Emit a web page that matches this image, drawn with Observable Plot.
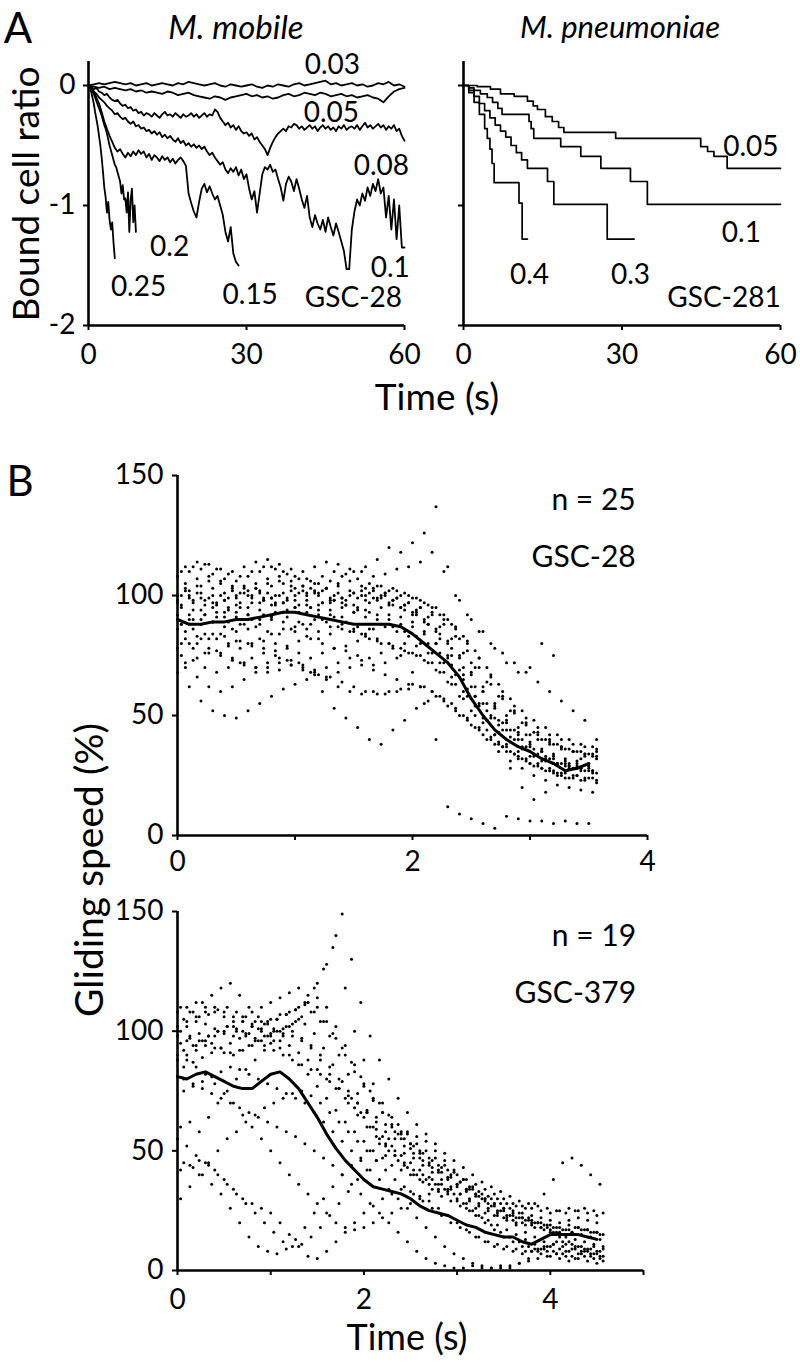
<!DOCTYPE html>
<html><head><meta charset="utf-8">
<script src="https://cdn.jsdelivr.net/npm/d3@7"></script>
<script src="https://cdn.jsdelivr.net/npm/@observablehq/plot@0.6"></script>
<style>
body{margin:0;background:#fff;}
#page{position:relative;width:800px;height:1362px;font-family:Lato,"Open Sans",sans-serif;color:#000;overflow:hidden;background:#fff}
.lbl{position:absolute;white-space:nowrap;line-height:1;}
</style></head><body><div id="page"></div>
<script>
// ---------- Panel A: M. mobile (bound cell ratio, noisy traces) ----------
const mobileConc = ["0.03","0.05","0.08","0.1","0.15","0.2","0.25"];
const mobileStep = [1, 1, 0.5, 0.5, 0.5, 0.25, 0.25];
const mob003 = [0,0.01,0.02,0.01,0.02,0.03,0.02,0.01,0.02,0.0,0.01,0.02,0.0,0.01,0.02,0.01,0.0,0.02,0.01,0.03,0.02,0.01,0.0,0.01,0.02,0.0,-0.01,0.01,0.0,-0.01,0.0,0.01,-0.01,-0.02,0.0,-0.01,0.01,0.0,-0.01,0.01,0.02,0.0,0.01,0.02,0.03,0.04,0.01,0.02,0.0,0.01,0.02,0.0,0.01,-0.01,0.0,0.02,0.01,0.03,0.0,0.01,-0.01];
const mob005 = [0,-0.01,-0.02,-0.01,-0.03,-0.02,-0.03,-0.04,-0.03,-0.05,-0.04,-0.06,-0.05,-0.06,-0.07,-0.05,-0.06,-0.08,-0.07,-0.06,-0.08,-0.09,-0.1,-0.11,-0.09,-0.1,-0.12,-0.1,-0.09,-0.08,-0.07,-0.09,-0.08,-0.1,-0.09,-0.11,-0.1,-0.08,-0.07,-0.09,-0.08,-0.06,-0.07,-0.08,-0.06,-0.07,-0.09,-0.08,-0.07,-0.09,-0.08,-0.1,-0.09,-0.08,-0.1,-0.11,-0.14,-0.09,-0.05,-0.03,-0.02];
const mob008 = [0,-0.01,-0.03,-0.02,-0.05,-0.06,-0.08,-0.07,-0.1,-0.12,-0.13,
 -0.12,-0.15,-0.17,-0.16,-0.19,-0.18,-0.21,-0.2,-0.23,-0.22,
 -0.25,-0.23,-0.24,-0.26,-0.23,-0.25,-0.27,-0.24,-0.22,-0.25,
 -0.24,-0.26,-0.23,-0.25,-0.27,-0.24,-0.26,-0.25,-0.23,-0.26,
 -0.24,-0.27,-0.25,-0.23,-0.26,-0.24,-0.25,-0.2,-0.22,-0.27,
 -0.3,-0.33,-0.31,-0.35,-0.33,-0.37,-0.34,-0.38,-0.4,-0.39,
 -0.42,-0.4,-0.45,-0.43,-0.47,-0.5,-0.53,-0.58,-0.52,-0.47,
 -0.43,-0.4,-0.38,-0.36,-0.38,-0.34,-0.35,-0.32,-0.33,-0.36,
 -0.34,-0.37,-0.35,-0.33,-0.36,-0.34,-0.38,-0.35,-0.33,-0.36,
 -0.34,-0.37,-0.35,-0.38,-0.34,-0.36,-0.33,-0.37,-0.35,-0.34,
 -0.36,-0.33,-0.37,-0.34,-0.31,-0.35,-0.33,-0.36,-0.34,-0.32,
 -0.35,-0.33,-0.37,-0.34,-0.36,-0.33,-0.38,-0.36,-0.42,-0.46];
const mob01 = [0,-0.02,-0.05,-0.07,-0.1,-0.12,-0.14,-0.17,-0.19,-0.21,-0.24,
 -0.23,-0.26,-0.28,-0.27,-0.3,-0.32,-0.3,-0.34,-0.33,-0.36,
 -0.35,-0.38,-0.37,-0.4,-0.38,-0.41,-0.39,-0.43,-0.41,-0.44,
 -0.42,-0.45,-0.47,-0.44,-0.48,-0.46,-0.5,-0.48,-0.51,-0.49,
 -0.52,-0.5,-0.53,-0.51,-0.55,-0.58,-0.56,-0.6,-0.63,-0.66,
 -0.64,-0.7,-0.73,-0.69,-0.72,-0.68,-0.75,-0.7,-0.78,-0.74,
 -0.86,-0.95,-0.88,-1.06,-0.9,-0.74,-0.68,-0.7,-0.66,-0.72,
 -0.7,-0.78,-0.85,-0.96,-0.82,-0.76,-0.8,-0.88,-0.78,-0.86,
 -0.95,-1.02,-0.92,-1.1,-1.18,-1.08,-1.15,-1.2,-1.12,-1.22,
 -1.1,-1.18,-1.25,-1.15,-1.22,-1.3,-1.38,-1.53,-1.53,-1.2,
 -1.05,-0.95,-1.0,-0.9,-0.96,-0.85,-0.92,-0.82,-0.88,-0.78,
 -0.9,-0.85,-1.1,-0.92,-1.2,-0.95,-1.28,-1.0,-1.35,-1.35];
const mob015 = [0,-0.02,-0.05,-0.1,-0.15,-0.22,-0.3,-0.36,-0.42,-0.47,-0.52,
 -0.55,-0.53,-0.57,-0.6,-0.56,-0.59,-0.55,-0.58,-0.54,-0.57,
 -0.55,-0.6,-0.57,-0.62,-0.58,-0.6,-0.63,-0.59,-0.62,-0.6,
 -0.64,-0.61,-0.65,-0.62,-0.6,-0.63,-0.67,-0.9,-0.98,-1.05,
 -1.1,-0.97,-0.86,-0.82,-0.89,-0.84,-0.9,-0.95,-0.92,-1.0,
 -1.08,-1.22,-1.3,-1.18,-1.4,-1.47,-1.5];
const mob02 = [0,-0.01,-0.03,-0.05,-0.07,-0.1,-0.13,-0.16,-0.19,-0.22,-0.25,-0.29,-0.33,-0.36,-0.4,-0.45,-0.5,-0.54,-0.58,-0.62,-0.66,-0.68,-0.72,-0.76,-0.8,-0.9,-0.83,-0.95,-0.94,-1.06,-0.89,-1.22,-0.95,-0.86,-1.14,-1.0,-1.22];
const mob025 = [0,-0.02,-0.05,-0.1,-0.15,-0.22,-0.28,-0.34,-0.42,-0.5,-0.6,-0.72,-0.85,-0.93,-1.06,-0.97,-1.12,-1.2,-1.14,-1.31,-1.44];
const mobileValues = [mob003, mob005, mob008, mob01, mob015, mob02, mob025];

// ---------- Panel A: M. pneumoniae (step curves, [time, ratio]) ----------
const pneuConc = ["0.05","0.1","0.3","0.4"];
const pn005 = [[0,0],[2.6,-0.01],[5.1,-0.03],[7,-0.07],[9.6,-0.09],[12.1,-0.13],[13.2,-0.17],[14,-0.2],[15.5,-0.26],[16.8,-0.3],[18,-0.35],[19,-0.39],[28.8,-0.44],[44.9,-0.51],[46.2,-0.55],[47.4,-0.59],[49.9,-0.69],[60,-0.69]];
const pn01 = [[0,0],[1,-0.02],[2,-0.04],[3.2,-0.07],[4.5,-0.1],[5.5,-0.14],[6.5,-0.19],[7.3,-0.24],[12.4,-0.3],[12.8,-0.36],[13.3,-0.44],[18.4,-0.51],[22.2,-0.59],[26,-0.69],[31.6,-0.8],[34.8,-0.99],[60,-0.99]];
const pn03 = [[0,0],[1,-0.04],[2,-0.09],[3,-0.15],[4,-0.21],[5,-0.27],[6,-0.33],[7,-0.38],[8,-0.43],[9,-0.5],[10,-0.56],[11,-0.62],[12.1,-0.69],[15.9,-0.8],[17.1,-0.99],[27.2,-1.28],[32.3,-1.28]];
const pn04 = [[0,0],[1,-0.06],[2,-0.14],[3,-0.24],[4,-0.36],[4.5,-0.44],[5,-0.53],[5.4,-0.65],[5.8,-0.81],[10.5,-0.98],[11.1,-1.28],[12.1,-1.28]];
const pneuValues = [pn005, pn01, pn03, pn04];

const aXTicks = [0, 30, 60];
const aYTicks = [0, -1, -2];

// ---------- Panel B: gliding speed (%) per cell, sampled every 0.1 s ----------
const bStep = 0.1;
const gsc28Cells = [
 [100,102,104,103,101,99,100,102,104,105,103,101,100,98,99,101,103,104,102,100,99,97,95,90,82,72,62,55,50,45,42,40,38,36,35,34],
 [95,97,98,96,94,95,97,99,100,98,96,95,97,98,96,94,93,95,96,94,92,88,84,78,70,62,55,48,44,40,36,33,30,28,27,26],
 [105,107,108,106,104,103,105,107,108,106,104,102,103,105,106,104,102,100,99,97,95,93,90,86,80,74,66,58,52,47,43,40,37,35,33,32],
 [90,92,94,95,93,91,92,94,96,97,95,93,92,94,95,93,91,90,92,91,89,85,80,74,66,57,49,42,37,33,30,28,26,24,25,27],
 [110,112,113,111,109,108,110,112,111,109,107,106,108,110,109,107,105,104,103,101,99,96,92,88,83,77,70,63,57,52,48,45,42,40,38,37],
 [85,83,82,84,86,88,87,85,84,86,88,90,89,87,85,84,86,87,85,83,80,76,72,67,61,55,49,44,40,37,34,32,30,28,27,26],
 [98,100,99,97,98,100,102,101,99,97,98,100,101,99,97,96,98,99,97,95,93,90,86,81,75,68,60,53,47,42,38,35,32,30,29,28],
 [80,78,76,77,79,81,80,78,77,79,81,82,80,78,79,81,82,80,79,77,75,72,68,63,57,50,44,39,35,32,29,27,26,24,23,24],
 [102,104,106,105,103,101,103,105,106,104,102,101,103,104,102,100,99,101,102,100,98,95,92,87,81,74,67,60,54,49,45,42,40,38,37,36],
 [92,90,88,89,91,93,92,90,91,93,95,96,94,92,91,93,94,92,90,88,87,84,80,75,69,62,55,49,44,40,37,35,33,31,30,29],
 [75,73,70,68,70,72,74,76,75,73,72,74,76,78,77,75,74,76,78,80,79,76,72,66,60,54,48,43,39,36,33,31,30,29,28,27],
 [70,66,62,60,62,65,68,70,72,71,69,67,66,68,70,71,69,67,65,63,62,60,57,53,49,45,41,37,34,31,29,27,25,24,23,22],
 [68,62,56,52,50,49,52,55,58,61,63,65,67,66,64,62,60,59,60,61,63,62,58,54,50,46,42,38,35,32,30,28,27,26,25,24],
 [88,86,84,82,80,78,79,81,80,78,76,68,60,53,49,45,40,38,44,48,53,56,58,55,50,45,40,35,31,28,25,23,21,20,19,18],
 [82,80,78,76,74,72,70,68,69,71,70,68,65,62,60,59,60,59,60,61,62,60,56,52,48,44,40,37,34,32,30,28,26,25,24,23],
 [86,88,90,89,87,85,86,88,90,89,87,86,85,87,88,86,84,82,80,75,68,55,40,12,9,7,5,3,8,7,6,6,5,6,5,5],
 [100,98,96,97,99,101,100,98,97,99,101,103,102,100,98,99,101,100,98,96,93,88,82,75,67,58,48,38,28,20,15,18,25,30,32,33],
 [112,114,113,111,110,112,114,115,113,111,110,112,114,113,111,110,108,109,111,112,114,118,110,100,92,85,80,76,72,68,64,60,56,52,48,40],
 [108,110,111,109,107,106,108,110,112,110,108,107,105,106,108,110,112,115,120,118,122,126,137,112,98,90,85,78,72,68,70,80,75,null,null,null],
 [96,94,92,93,95,97,99,98,96,94,93,95,97,98,96,95,97,99,98,96,94,91,87,82,76,70,64,58,52,47,43,40,38,36,35,34],
 [103,101,99,100,102,104,103,101,100,102,104,105,103,101,100,102,103,101,99,97,95,92,88,83,77,70,63,57,51,46,42,39,37,35,34,35],
 [78,80,82,84,83,81,80,82,84,86,85,83,82,84,86,85,83,81,80,78,76,73,69,64,58,52,47,42,38,35,33,31,30,29,28,29],
 [88,90,92,91,89,88,90,92,93,91,89,88,90,91,89,87,86,88,87,85,83,80,76,71,65,58,52,46,41,37,34,32,30,29,28,27],
 [72,74,76,75,73,71,70,72,74,73,71,69,70,72,74,73,71,72,74,76,75,72,68,63,58,54,50,47,44,42,40,38,36,35,34,33],
 [97,99,101,100,98,96,95,97,99,101,100,98,96,97,99,101,100,98,96,95,92,89,85,80,74,67,60,54,48,43,39,36,34,32,31,30]
];
const gsc28Mean = [90,88,88,89,89,90,90,91,92,93,93,92,91,90,89,88,88,88,88,87,84,80,76,72,66,57,50,44,40,37,35,32,30,27,28,30];

const gsc379Cells = [
 [100,102,104,103,101,99,98,100,102,104,105,107,108,110,112,114,110,102,94,86,78,72,66,60,55,51,47,44,41,38,36,34,32,30,28,26,25,24,23,22,21,20,21,22,21,20],
 [95,97,99,98,100,102,101,99,97,98,100,101,103,106,108,104,98,90,82,74,66,59,53,48,44,40,37,34,31,29,27,25,23,21,19,17,15,13,11,9,8,7,6,7,6,5],
 [105,108,112,115,118,120,115,110,106,104,105,107,109,112,118,126,135,149,130,112,98,88,80,72,66,61,57,53,49,46,43,40,37,35,33,31,29,28,27,26,25,24,25,26,25,24],
 [98,96,94,96,98,100,102,104,103,101,99,100,102,105,112,120,128,140,118,100,88,78,70,64,58,53,49,45,42,39,36,33,31,29,27,25,23,22,21,20,19,18,19,18,17,16],
 [110,108,106,107,109,110,108,106,104,103,101,99,98,96,94,90,85,80,75,70,66,62,58,55,52,49,46,43,41,39,37,35,33,31,30,28,27,26,28,32,38,45,47,44,40,36],
 [92,94,96,95,93,91,92,94,96,98,100,102,104,103,99,93,86,79,72,66,60,55,50,46,43,40,38,36,34,32,28,25,22,19,16,14,12,10,9,8,7,6,5,6,5,4],
 [88,90,92,94,93,91,90,92,94,96,95,93,90,86,82,77,72,67,62,58,54,50,47,44,42,40,38,36,34,32,30,28,26,24,23,22,21,20,19,18,17,16,17,18,17,16],
 [60,62,58,64,70,75,80,84,88,92,96,98,100,97,93,88,82,76,70,65,60,56,52,48,45,42,40,38,36,34,32,30,28,26,24,23,22,21,20,19,18,17,16,17,16,15],
 [45,43,40,36,32,26,20,14,10,8,7,9,13,18,24,30,35,40,44,47,50,53,55,57,58,56,54,50,46,42,38,34,30,27,25,23,22,21,20,19,18,17,18,17,16,15],
 [55,52,48,45,42,38,34,30,28,26,24,20,15,10,6,5,8,12,16,20,24,27,30,32,34,33,31,29,26,23,20,17,14,12,10,9,8,7,8,9,10,9,8,7,8,7],
 [42,44,46,44,40,36,32,28,24,20,16,12,10,11,14,18,23,28,33,38,42,46,48,50,49,47,44,41,38,35,32,29,27,25,23,21,20,19,18,17,16,15,16,15,14,13],
 [80,78,76,74,72,70,68,66,64,62,60,58,56,53,50,47,44,40,36,32,28,24,20,16,12,8,5,3,2,1,1,2,1,1,2,1,3,5,8,10,12,11,10,9,10,9],
 [102,104,106,108,110,108,106,104,102,100,98,96,94,91,88,84,80,76,72,68,64,60,56,52,48,45,42,39,36,33,29,26,23,20,17,14,12,10,8,7,6,5,4,5,4,3],
 [30,35,40,45,50,55,58,62,65,68,70,72,74,75,73,70,66,62,58,54,50,46,42,38,35,32,29,26,23,20,18,16,14,12,11,10,9,8,9,10,11,12,11,10,9,8],
 [85,87,89,91,93,95,97,99,101,103,105,107,109,111,108,104,99,93,87,81,75,70,65,61,57,53,50,47,44,41,38,35,32,30,28,26,24,22,20,18,16,14,13,12,11,10],
 [90,88,85,82,78,74,70,65,60,55,50,45,40,36,32,28,24,20,18,17,18,20,22,24,26,28,30,32,33,34,35,34,32,30,28,26,24,22,20,18,16,14,12,10,9,8],
 [100,98,96,98,100,102,100,98,96,94,92,90,88,86,84,82,79,76,73,70,67,64,61,58,55,52,49,46,43,40,37,34,31,28,25,22,19,16,14,12,11,10,9,8,7,6],
 [75,77,79,81,83,85,84,82,80,78,76,74,72,70,66,62,58,54,50,46,42,38,34,30,26,22,18,14,10,7,5,3,2,1,1,2,3,4,5,6,7,8,9,8,7,6],
 [108,110,112,110,108,106,104,106,108,110,112,114,116,118,115,110,104,97,90,83,77,71,66,61,57,53,50,47,44,42,40,38,36,34,32,30,28,27,26,25,24,25,26,25,24,23]
];
const gsc379Mean = [81,80,82,83,81,79,77,76,76,79,82,83,80,76,70,64,57,51,46,42,38,35,34,33,32,30,27,25,24,23,21,19,18,16,15,14,14,12,11,13,15,15,15,15,14,13];

const bYTicks = [0, 50, 100, 150];
const bTopXTicks = [0, 1, 2, 3, 4];
const bBotXTicks = [0, 1, 2, 3, 4, 5];

// ---------- build ----------
const FONT = "Lato, 'Open Sans', sans-serif";
const page = document.getElementById("page");
const seriesRows = (name, dt, vals, off = 0) => vals.map((v, i) => ({s: name, t: +(i * dt + off).toFixed(3), v})).filter(d => d.v != null);
const stepRows = (name, pairs) => pairs.map(([t, v]) => ({s: name, t, v}));
// cells were recorded with staggered frame phases: spread each cell's frames within one sampling step
const cellRows = cells => cells.flatMap((c, i) => seriesRows("c" + i, bStep, c, (i % 3) * bStep / 3));

function place(svg, left, top) {
  svg.style.position = "absolute";
  svg.style.left = left + "px";
  svg.style.top = top + "px";
  page.appendChild(svg);
}
function label(text, cx, cy, size, opts = {}) {
  const d = document.createElement("div");
  d.className = "lbl";
  d.textContent = text;
  d.style.left = cx + "px";
  d.style.top = cy + "px";
  d.style.fontSize = size + "px";
  d.style.transform = "translate(-50%,-50%)" + (opts.rotate ? ` rotate(${opts.rotate}deg)` : "");
  if (opts.italic) d.style.fontStyle = "italic";
  page.appendChild(d);
}
const baseStyle = {fontFamily: FONT, fontSize: "28px", background: "transparent", overflow: "visible", color: "#000"};
const AXW = 2.6;
const TF = 28;

// Panel A left
const mobileRows = mobileConc.flatMap((c, i) => seriesRows(c, mobileStep[i], mobileValues[i]));
const mobileLabels = [
  {t: 46.3, v: 0.17, text: mobileConc[0]},
  {t: 46.1, v: -0.23, text: mobileConc[1]},
  {t: 55.6, v: -0.67, text: mobileConc[2]},
  {t: 57.3, v: -1.52, text: mobileConc[3]},
  {t: 30.7, v: -1.75, text: mobileConc[4]},
  {t: 15.4, v: -1.35, text: mobileConc[5]},
  {t: 9.5, v: -1.68, text: mobileConc[6]},
  {t: 50.3, v: -1.77, text: "GSC-28"}
];
place(Plot.plot({
  width: 420, height: 400, marginLeft: 88, marginRight: 16, marginTop: 61, marginBottom: 75,
  x: {domain: [0, 60], label: null}, y: {domain: [-2, 0.2], label: null},
  style: baseStyle,
  marks: [
    Plot.line(mobileRows, {x: "t", y: "v", z: "s", stroke: "#000", strokeWidth: 1.8}),
    Plot.ruleX([0], {y1: -2, y2: 0.2, strokeWidth: AXW}),
    Plot.ruleY([-2], {x1: 0, x2: 60, strokeWidth: AXW}),
    Plot.axisX({ticks: aXTicks, tickSize: 5, tickPadding: 14, strokeWidth: 2, fontSize: TF, tickFormat: d => String(d), label: null}),
    Plot.axisY({ticks: aYTicks, tickSize: 5, tickPadding: 8, strokeWidth: 2, fontSize: TF, tickFormat: d => String(d), label: null}),
    Plot.text(mobileLabels, {x: "t", y: "v", text: "text", fontSize: TF})
  ]
}), 0, 0);

// Panel A right
const pneuRows = pneuConc.flatMap((c, i) => stepRows(c, pneuValues[i]));
const pneuLabels = [
  {t: 54.4, v: -0.51, text: pneuConc[0]},
  {t: 52.6, v: -1.23, text: pneuConc[1]},
  {t: 31.6, v: -1.58, text: pneuConc[2]},
  {t: 12.5, v: -1.58, text: pneuConc[3]},
  {t: 49.3, v: -1.77, text: "GSC-281"}
];
place(Plot.plot({
  width: 380, height: 400, marginLeft: 43, marginRight: 20, marginTop: 61, marginBottom: 75,
  x: {domain: [0, 60], label: null}, y: {domain: [-2, 0.2], label: null},
  style: baseStyle,
  marks: [
    Plot.line(pneuRows, {x: "t", y: "v", z: "s", curve: "step-after", stroke: "#000", strokeWidth: 1.7}),
    Plot.ruleX([0], {y1: -2, y2: 0.2, strokeWidth: AXW}),
    Plot.ruleY([-2], {x1: 0, x2: 60, strokeWidth: AXW}),
    Plot.axisX({ticks: aXTicks, tickSize: 5, tickPadding: 14, strokeWidth: 2, fontSize: TF, tickFormat: d => String(d), label: null}),
    Plot.axisY({ticks: aYTicks, tickSize: 5, tickPadding: 8, strokeWidth: 2, fontSize: TF, tickFormat: () => "", label: null}),
    Plot.text(pneuLabels, {x: "t", y: "v", text: "text", fontSize: TF})
  ]
}), 420, 0);

// Panel B top
const topDots = cellRows(gsc28Cells);
const topMean = seriesRows("mean", bStep, gsc28Mean);
place(Plot.plot({
  width: 680, height: 460, marginLeft: 177, marginRight: 33, marginTop: 35, marginBottom: 65,
  x: {domain: [0, 4], label: null}, y: {domain: [0, 150], label: null},
  style: baseStyle,
  marks: [
    Plot.dot(topDots, {x: "t", y: "v", r: 1.5, fill: "#000", stroke: null}),
    Plot.line(topMean, {x: "t", y: "v", stroke: "#000", strokeWidth: 3}),
    Plot.ruleX([0], {y1: 0, y2: 150, strokeWidth: AXW}),
    Plot.ruleY([0], {x1: 0, x2: 4, strokeWidth: AXW}),
    Plot.axisX({ticks: bTopXTicks, tickSize: 5, tickPadding: 11, strokeWidth: 2, fontSize: TF, tickFormat: d => d % 2 === 0 ? String(d) : "", label: null}),
    Plot.axisY({ticks: bYTicks, tickSize: 5, tickPadding: 9, strokeWidth: 2, fontSize: TF, tickFormat: d => String(d), label: null}),
    Plot.text([{t: 3.9, v: 139.6, text: "n = 25"}, {t: 3.9, v: 115.8, text: "GSC-28"}], {x: "t", y: "v", text: "text", textAnchor: "end", fontSize: 30})
  ]
}), 0, 440);

// Panel B bottom
const botDots = cellRows(gsc379Cells);
const botMean = seriesRows("mean", bStep, gsc379Mean);
place(Plot.plot({
  width: 680, height: 482, marginLeft: 177, marginRight: 37, marginTop: 31, marginBottom: 92,
  x: {domain: [0, 5], label: null}, y: {domain: [0, 150], label: null},
  style: baseStyle,
  marks: [
    Plot.dot(botDots, {x: "t", y: "v", r: 1.5, fill: "#000", stroke: null}),
    Plot.line(botMean, {x: "t", y: "v", stroke: "#000", strokeWidth: 3}),
    Plot.ruleX([0], {y1: 0, y2: 150, strokeWidth: AXW}),
    Plot.ruleY([0], {x1: 0, x2: 5, strokeWidth: AXW}),
    Plot.axisX({ticks: bBotXTicks, tickSize: 5, tickPadding: 14, strokeWidth: 2, fontSize: TF, tickFormat: d => d % 2 === 0 ? String(d) : "", label: null}),
    Plot.axisY({ticks: bYTicks, tickSize: 5, tickPadding: 9, strokeWidth: 2, fontSize: TF, tickFormat: d => String(d), label: null}),
    Plot.text([{t: 4.92, v: 139.7, text: "n = 19"}, {t: 4.92, v: 115.9, text: "GSC-379"}], {x: "t", y: "v", text: "text", textAnchor: "end", fontSize: 30})
  ]
}), 0, 880);

// Titles and axis titles
label("A", 18, 27, 42);
label("M. mobile", 236, 26, 33, {italic: true});
label("M. pneumoniae", 620, 26, 31, {italic: true});
label("Bound cell ratio", 24, 194, 37, {rotate: -90});
label("Time (s)", 437, 395, 37);
label("B", 20, 480, 42);
label("Gliding speed (%)", 88, 870, 39, {rotate: -90});
label("Time (s)", 407, 1336, 36);
</script></body></html>
